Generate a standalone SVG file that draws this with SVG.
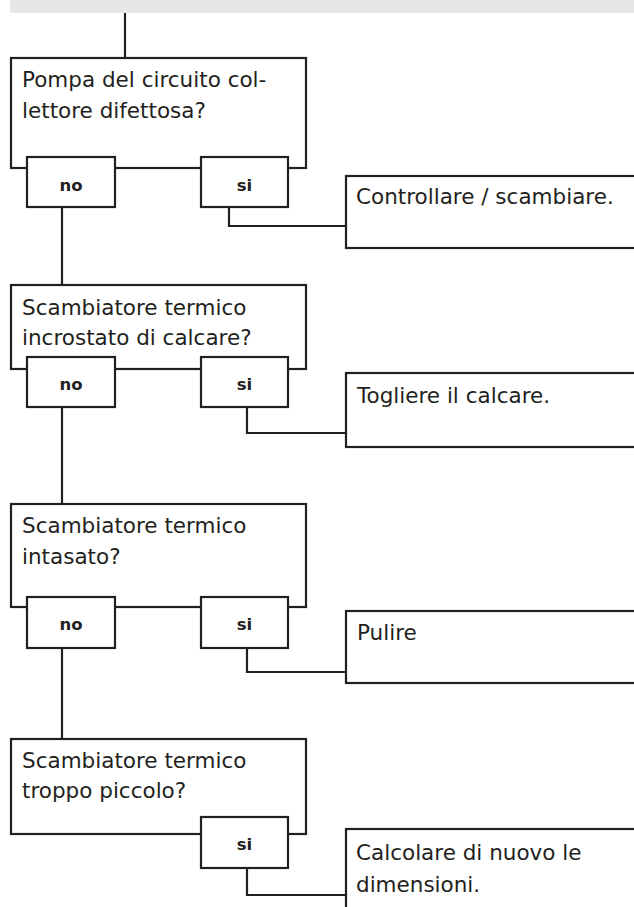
<svg xmlns="http://www.w3.org/2000/svg" width="634" height="907" viewBox="0 0 634 907">
<style>
.bx{fill:#fff;stroke:#231f20;stroke-width:2.2}
.ln{fill:none;stroke:#231f20;stroke-width:2.2}
.t{font-family:"DejaVu Sans",sans-serif;font-size:21.5px;fill:#231f20}
.b{font-family:"DejaVu Sans",sans-serif;font-weight:bold;font-size:16.5px;fill:#231f20;text-anchor:middle}
</style>
<rect x="10" y="0" width="624" height="13" fill="#e6e7e8"/>
<g id="connectors">
<path class="ln" d="M125 13V58"/>
<path class="ln" d="M62 207V285"/>
<path class="ln" d="M229 207V226H346"/>
<path class="ln" d="M62 407V504"/>
<path class="ln" d="M247 407V433H346"/>
<path class="ln" d="M62 648V739"/>
<path class="ln" d="M247 648V672H346"/>
<path class="ln" d="M247 868V895H346"/>
</g>
<g id="q1">
<rect class="bx" x="11" y="58" width="295" height="110"/>
<text class="t" x="22" y="87">Pompa del circuito col-</text>
<text class="t" x="22" y="118">lettore difettosa?</text>
</g>
<g id="q1-no"><rect class="bx" x="27" y="157" width="88" height="50"/><text class="b" x="71" y="191">no</text></g>
<g id="q1-si"><rect class="bx" x="201" y="157" width="87" height="50"/><text class="b" x="244.5" y="191">si</text></g>
<g id="a1"><rect class="bx" x="346" y="176" width="300" height="72"/><text class="t" x="356" y="204">Controllare / scambiare.</text></g>

<g id="q2">
<rect class="bx" x="11" y="285" width="295" height="84"/>
<text class="t" x="22" y="315">Scambiatore termico</text>
<text class="t" x="22" y="345">incrostato di calcare?</text>
</g>
<g id="q2-no"><rect class="bx" x="27" y="357" width="88" height="50"/><text class="b" x="71" y="390">no</text></g>
<g id="q2-si"><rect class="bx" x="201" y="357" width="87" height="50"/><text class="b" x="244.5" y="390">si</text></g>
<g id="a2"><rect class="bx" x="346" y="373" width="300" height="74"/><text class="t" x="357" y="403">Togliere il calcare.</text></g>

<g id="q3">
<rect class="bx" x="11" y="504" width="295" height="103"/>
<text class="t" x="22" y="533">Scambiatore termico</text>
<text class="t" x="22" y="564">intasato?</text>
</g>
<g id="q3-no"><rect class="bx" x="27" y="597" width="88" height="51"/><text class="b" x="71" y="630">no</text></g>
<g id="q3-si"><rect class="bx" x="201" y="597" width="87" height="51"/><text class="b" x="244.5" y="630">si</text></g>
<g id="a3"><rect class="bx" x="346" y="611" width="300" height="72"/><text class="t" x="357" y="640">Pulire</text></g>

<g id="q4">
<rect class="bx" x="11" y="739" width="295" height="95"/>
<text class="t" x="22" y="768">Scambiatore termico</text>
<text class="t" x="22" y="798">troppo piccolo?</text>
</g>
<g id="q4-si"><rect class="bx" x="201" y="817" width="87" height="51"/><text class="b" x="244.5" y="850">si</text></g>
<g id="a4"><rect class="bx" x="346" y="829" width="300" height="100"/><text class="t" x="356" y="860">Calcolare di nuovo le</text><text class="t" x="356" y="892">dimensioni.</text></g>
</svg>
